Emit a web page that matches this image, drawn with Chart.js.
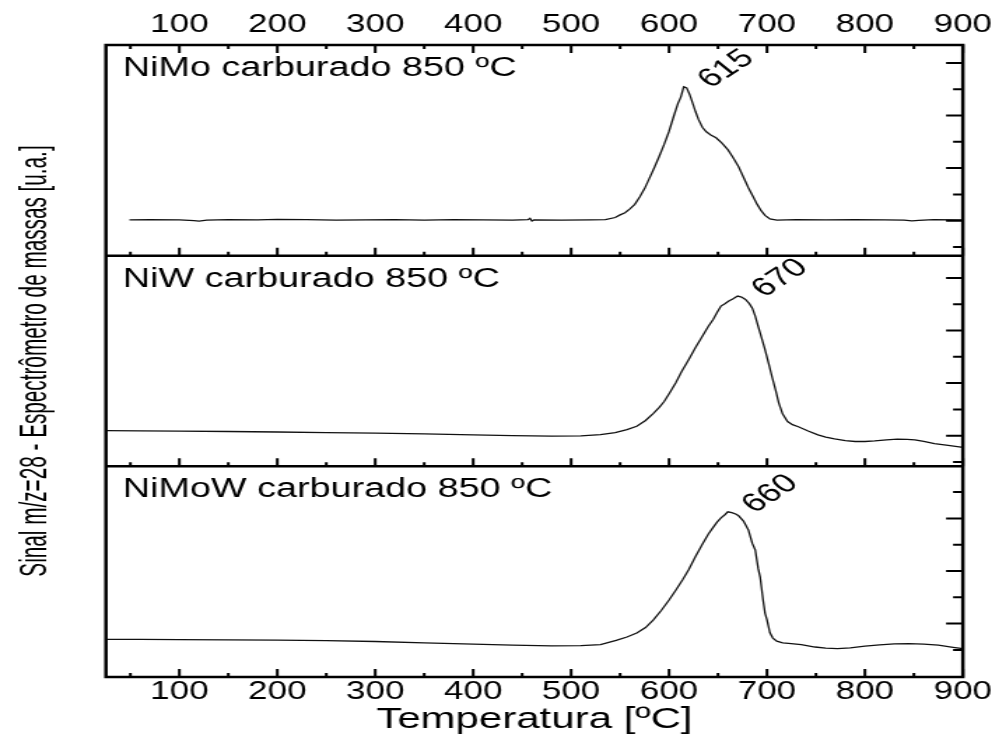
<!DOCTYPE html>
<html lang="pt">
<head>
<meta charset="utf-8">
<title>Sinal m/z=28 - carburados 850 ºC</title>
<script src="https://cdn.jsdelivr.net/npm/chart.js@4"></script>
<style>
  html, body { margin: 0; padding: 0; background: #fff; overflow: hidden; }
  /* the figure is drawn narrow and widened, like the original export */
  #wrap { width: 714px; height: 738px; transform: scaleX(1.3992); transform-origin: 0 0; }
  canvas { display: block; }
</style>
</head>
<body>
<div id="wrap"><canvas id="tpr" width="714" height="738"></canvas></div>
<script>
const FONT = "'Liberation Sans', Arial, sans-serif";

// temperature ticks (ºC)
const tempTicks = [100, 200, 300, 400, 500, 600, 700, 800, 900];
const tempMinor = [50, 150, 250, 350, 450, 550, 650, 750, 850];
// signal ticks on the right edge of every panel (u.a.)
const signalMajor = [1, 3, 5, 7];
const signalMinor = [0, 2, 4, 6];

const yTitle = "Sinal m/z=28 - Espectrômetro de massas [u.a.]";
const panelNames = ["NiMo carburado 850 ºC", "NiW carburado 850 ºC", "NiMoW carburado 850 ºC"];
const peakTemps = [615, 670, 660];

// NiMo
const nimoT = [49, 70, 100, 115, 120, 128, 150, 180, 200, 230, 260, 290, 320, 350, 380, 410, 440, 456, 458, 460, 462,
  490, 520, 535, 545, 550, 555, 560, 565, 570, 575, 580, 585, 590, 595, 600, 605, 609, 612, 615, 618, 621, 624, 627,
  630, 634, 638, 643, 648, 654, 660, 665, 671, 676, 681, 686, 690, 694, 698, 703, 710, 730, 760, 790, 820, 840, 848,
  855, 870, 900];
const nimoS = [1.03, 1.04, 1.03, 1.00, 0.98, 1.02, 1.04, 1.03, 1.05, 1.04, 1.02, 1.03, 1.04, 1.02, 1.04, 1.03, 1.02,
  1.04, 1.09, 0.99, 1.03, 1.02, 1.03, 1.04, 1.12, 1.22, 1.30, 1.45, 1.62, 1.90, 2.22, 2.62, 3.02, 3.45, 3.90, 4.40,
  5.00, 5.45, 5.70, 6.09, 6.05, 5.80, 5.48, 5.15, 4.85, 4.55, 4.38, 4.25, 4.15, 3.95, 3.70, 3.42, 3.05, 2.65, 2.25,
  1.90, 1.62, 1.38, 1.20, 1.07, 1.02, 1.04, 1.03, 1.04, 1.03, 1.02, 0.99, 1.01, 1.04, 1.03];

// NiW
const niwT = [26, 60, 100, 150, 200, 250, 300, 350, 400, 440, 480, 510, 530, 545, 557, 567, 576, 584, 590, 595, 601,
  607, 613, 620, 627, 634, 640, 645, 649, 653, 657, 661, 665, 670, 674, 678, 682, 685, 688, 691, 695, 698, 702, 705,
  709, 712, 716, 721, 726, 732, 742, 752, 760, 769, 780, 790, 800, 810, 822, 833, 843, 851, 860, 871, 885, 900];
const niwS = [1.19, 1.18, 1.17, 1.16, 1.14, 1.12, 1.10, 1.07, 1.03, 1.00, 0.98, 0.99, 1.04, 1.12, 1.23, 1.36, 1.58,
  1.85, 2.08, 2.30, 2.65, 3.02, 3.45, 3.89, 4.35, 4.78, 5.15, 5.42, 5.68, 5.93, 6.02, 6.12, 6.20, 6.31, 6.27, 6.18,
  6.02, 5.85, 5.55, 5.16, 4.65, 4.27, 3.70, 3.26, 2.70, 2.25, 1.82, 1.54, 1.42, 1.34, 1.18, 1.03, 0.95, 0.88, 0.81,
  0.78, 0.78, 0.80, 0.84, 0.87, 0.86, 0.84, 0.78, 0.70, 0.63, 0.56];

// NiMoW
const nimowT = [26, 60, 100, 150, 200, 250, 300, 350, 400, 440, 480, 510, 530, 546, 557, 567, 576, 584, 592, 600, 607,
  614, 620, 627, 634, 640, 645, 649, 653, 657, 660, 664, 668, 671, 676, 681, 685, 688, 691, 693, 696, 698, 700,
  703, 706, 710, 716, 722, 735, 749, 760, 772, 785, 800, 815, 830, 845, 860, 875, 890, 900];
const nimowS = [0.40, 0.40, 0.39, 0.38, 0.37, 0.35, 0.32, 0.27, 0.22, 0.18, 0.15, 0.16, 0.20, 0.36, 0.49, 0.64, 0.85,
  1.14, 1.50, 1.90, 2.28, 2.68, 3.05, 3.55, 4.02, 4.40, 4.66, 4.86, 5.02, 5.14, 5.25, 5.22, 5.17, 5.10, 4.90,
  4.56, 4.05, 3.80, 3.10, 2.77, 1.90, 1.40, 1.14, 0.65, 0.45, 0.33, 0.27, 0.25, 0.20, 0.11, 0.07, 0.05, 0.08, 0.14,
  0.19, 0.23, 0.24, 0.22, 0.18, 0.10, 0.05];

const zip = (xs, ys) => xs.map((x, i) => ({ x, y: ys[i] }));
const series = [[nimoT, nimoS], [niwT, niwS], [nimowT, nimowS]];
const panelAxes = ["yA", "yB", "yC"];

function line(i) {
  return {
    label: panelNames[i],
    data: zip(series[i][0], series[i][1]),
    yAxisID: panelAxes[i],
    borderColor: "#111",
    borderWidth: 1.3,
    pointRadius: 0,
    tension: 0,
    fill: false,
  };
}

function panelAxis(min, max) {
  return {
    type: "linear",
    position: "left",
    stack: "panels",
    stackWeight: 1,
    min,
    max,
    ticks: { display: false },
    grid: { display: false, drawTicks: false },
    border: { display: false },
    afterFit: (s) => { s.width = 75.7; },
  };
}

function tempAxis(position, height, padding, extra) {
  return Object.assign({
    type: "linear",
    position,
    min: 25,
    max: 900,
    afterBuildTicks: (s) => { s.ticks = tempTicks.map((v) => ({ value: v })); },
    ticks: { color: "#000", font: { family: FONT, size: 25 }, padding, maxRotation: 0 },
    grid: { display: false, drawTicks: false },
    border: { display: false },
    afterFit: (s) => { s.height = height; },
  }, extra);
}

// frame, inward ticks, panel names, peak labels and the shared signal title
const frame = {
  id: "frame",
  afterDraw(chart) {
    const { ctx, chartArea: a, scales } = chart;
    const x = scales.x;
    ctx.save();
    ctx.strokeStyle = "#000";
    ctx.fillStyle = "#000";

    ctx.lineWidth = 2;
    ctx.beginPath();
    panelAxes.forEach((id) => {
      const ys = scales[id];
      const bottom = ys.bottom;
      tempTicks.forEach((t) => { const px = x.getPixelForValue(t); ctx.moveTo(px, bottom); ctx.lineTo(px, bottom - 8); });
      tempMinor.forEach((t) => { const px = x.getPixelForValue(t); ctx.moveTo(px, bottom); ctx.lineTo(px, bottom - 4); });
      signalMajor.forEach((v) => {
        if (v < ys.min || v > ys.max) return;
        const py = ys.getPixelForValue(v); ctx.moveTo(a.right, py); ctx.lineTo(a.right - 12, py);
      });
      signalMinor.forEach((v) => {
        if (v < ys.min || v > ys.max) return;
        const py = ys.getPixelForValue(v); ctx.moveTo(a.right, py); ctx.lineTo(a.right - 7, py);
      });
    });
    tempTicks.forEach((t) => { const px = x.getPixelForValue(t); ctx.moveTo(px, a.top); ctx.lineTo(px, a.top + 8); });
    tempMinor.forEach((t) => { const px = x.getPixelForValue(t); ctx.moveTo(px, a.top); ctx.lineTo(px, a.top + 4); });
    ctx.stroke();

    ctx.lineWidth = 2.5;
    ctx.strokeRect(a.left, a.top, a.right - a.left, a.bottom - a.top);
    ctx.beginPath();
    [scales.yA.bottom, scales.yB.bottom].forEach((py) => { ctx.moveTo(a.left, py); ctx.lineTo(a.right, py); });
    ctx.stroke();

    ctx.font = `27px ${FONT}`;
    ctx.textBaseline = "alphabetic";
    ctx.textAlign = "left";
    panelAxes.forEach((id, i) => {
      ctx.fillText(panelNames[i], a.left + 12, scales[id].top + 31);
    });

    ctx.font = `26px ${FONT}`;
    peakTemps.forEach((t, i) => {
      const [ts, ss] = series[i];
      const k = ts.indexOf(t);
      const px = x.getPixelForValue(t);
      const py = scales[panelAxes[i]].getPixelForValue(ss[k]);
      ctx.save();
      ctx.translate(px + 19, py + 2);
      ctx.rotate(-42 * Math.PI / 180);
      ctx.fillText(String(t), 0, 0);
      ctx.restore();
    });

    // condensed, rotated title centred on the stack of panels
    ctx.save();
    ctx.font = `28px ${FONT}`;
    ctx.textAlign = "center";
    ctx.textBaseline = "middle";
    ctx.translate(25, (a.top + a.bottom) / 2);
    ctx.rotate(-Math.PI / 2);
    ctx.scale(0.74, 1);
    ctx.fillText(yTitle, 0, 0);
    ctx.restore();

    ctx.restore();
  },
};

new Chart(document.getElementById("tpr"), {
  type: "line",
  data: { datasets: [line(0), line(1), line(2)] },
  options: {
    responsive: false,
    animation: false,
    layout: { padding: { left: 0, right: 22.3, top: 0, bottom: 0 } },
    plugins: { legend: { display: false }, tooltip: { enabled: false } },
    scales: {
      x: tempAxis("bottom", 61, 0, {
        title: { display: true, text: "Temperatura [ºC]", color: "#000", font: { family: FONT, size: 30 }, padding: { top: 2, bottom: 0 } },
      }),
      x2: tempAxis("top", 45, 5),
      yC: panelAxis(-1.03, 6.98),
      yB: panelAxis(-0.165, 7.845),
      yA: panelAxis(-0.33, 7.68),
    },
  },
  plugins: [frame],
});
</script>
</body>
</html>
